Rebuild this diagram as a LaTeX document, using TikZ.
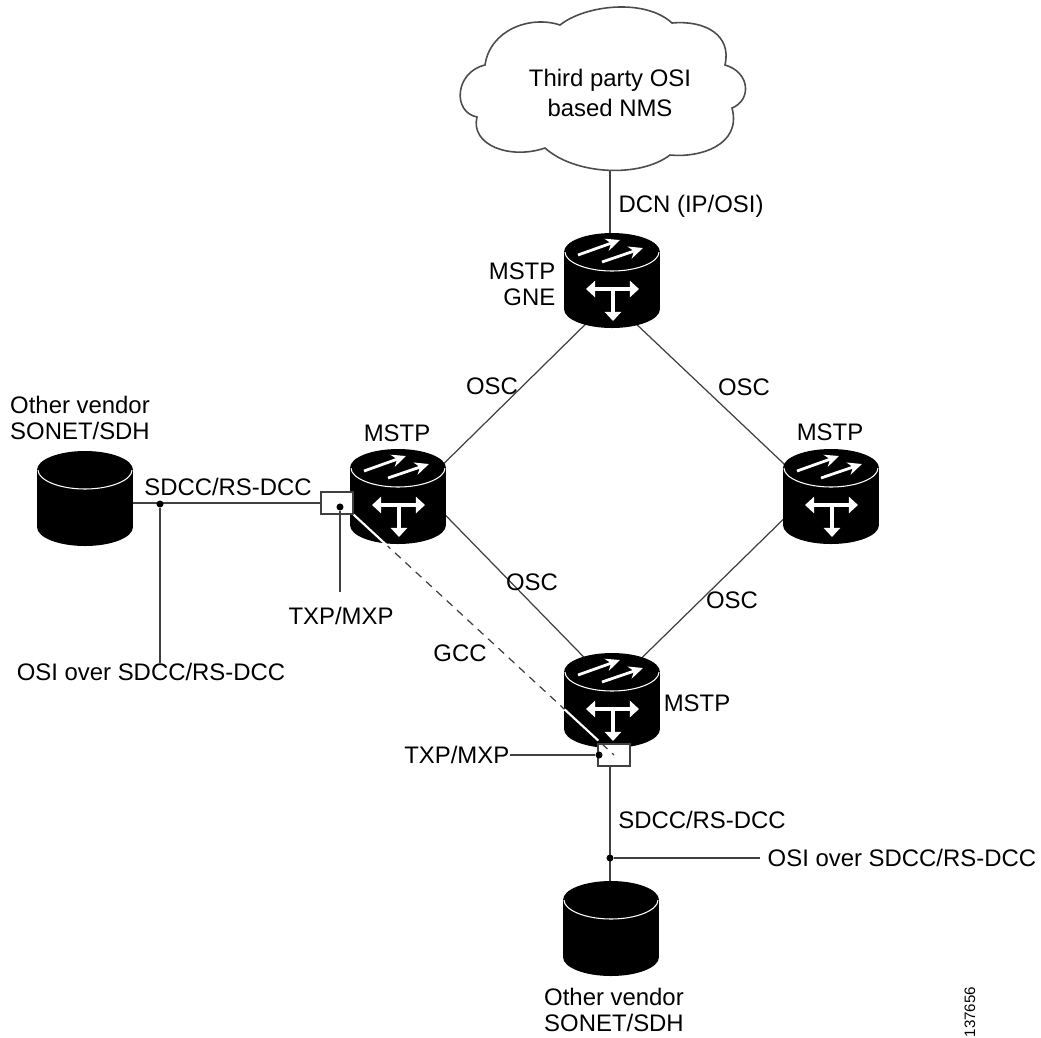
\documentclass[tikz,border=0pt]{standalone}
\usepackage{fontspec}
\setmainfont{Liberation Sans}
\usetikzlibrary{arrows.meta,backgrounds}
\colorlet{ColourLine}{black!75}
\tikzset{
  label text/.style={
    font=\fontsize{6.8pt}{7.5pt}\selectfont,
    align=center,
    inner sep=0pt,
  },
  link/.style={
    draw=ColourLine,
    line width=0.35pt,
  },
  gcc link/.style={
    link,
    dash pattern=on 2.2pt off 1.8pt,
  },
  gcc inside/.style={
    draw=white,
    line width=0.6pt,
  },
  tap dot/.style={
    fill=black,
    circle,
    inner sep=0pt,
    minimum size=2pt,
  },
  txp box/.style={
    draw=ColourLine,
    fill=white,
    line width=0.4pt,
    inner sep=0pt,
    minimum width=.32cm,
    minimum height=.22cm,
  },
  router/.style={
    circle,
    inner sep=0pt,
    minimum size=.9cm,
  },
  vendor body/.pic={
    \fill[black] (0,-29) ellipse (48 and 19);
    \fill[black] (-48,-29) rectangle (48,28);
    \fill[black] (0,28) ellipse (48 and 19);
    \draw[white,line width=0.3pt] (-47,-29) .. controls (-47,-19) and (-26,-10) .. (0,-10)
      .. controls (26,-10) and (47,-19) .. (47,-29);
  },
  mstp body/.pic={
    \pic {vendor body};
    \draw[white,line width=0.8pt,-{Stealth[length=4pt,width=3.6pt]}] (-34,-26) -- (8,-41);
    \draw[white,line width=0.8pt,-{Stealth[length=4pt,width=3.6pt]}] (-10,-19) -- (31,-33);
    \draw[white,line width=1.1pt,{Triangle[length=2.6pt,width=4.6pt]}-{Triangle[length=2.6pt,width=4.6pt]}] (-26,8) -- (27,8);
    \draw[white,line width=1.1pt,-{Triangle[length=2.6pt,width=4.6pt]}] (1,8) -- (1,40);
  },
}

\begin{document}
\begin{tikzpicture}[x=.01cm,y=-.01cm]
  \useasboundingbox (0,0) rectangle (1041,1038);

  % cloud
  \draw[draw=black!70,fill=white,line width=0.45pt]
    (560,25) .. controls (585,5) and (645,-2) .. (672,23)
    .. controls (705,20) and (732,35) .. (725,65)
    .. controls (750,72) and (752,100) .. (732,108)
    .. controls (742,145) and (700,158) .. (670,155)
    .. controls (640,178) and (575,175) .. (545,148)
    .. controls (510,160) and (470,145) .. (477,117)
    .. controls (452,112) and (455,72) .. (485,65)
    .. controls (490,30) and (530,15) .. (560,25) -- cycle;
  \node[label text] (nms) at (610,93) {Third party OSI\\[1pt]based NMS};

  % routers
  \node[router] (gne) at (612,281) {};
  \node[router] (west) at (398,497) {};
  \node[router] (east) at (831,497) {};
  \node[router] (south) at (612,701) {};
  \node[router] (vendorW) at (85,499) {};
  \node[router] (vendorS) at (611,929) {};
  \pic at (gne) {mstp body};
  \pic at (west) {mstp body};
  \pic at (east) {mstp body};
  \pic at (south) {mstp body};
  \pic at (vendorW) {vendor body};
  \pic at (vendorS) {vendor body};

  % boxes and tap points
  \node[txp box] (txpW) at (337,503) {};
  \node[txp box] (txpS) at (614,755) {};
  \node[tap dot] (dotW) at (340,507) {};
  \node[tap dot] (dotS) at (599,755) {};
  \node[tap dot] (tapW) at (160,504) {};
  \node[tap dot] (tapS) at (610,858) {};

  % labels
  \node[label text,anchor=west] (dcn) at (618,206) {DCN (IP/OSI)};
  \node[label text,align=right,anchor=east] (gneText) at (556,284) {MSTP\\GNE};
  \node[label text] (osc1) at (492,386) {OSC};
  \node[label text] (osc2) at (744,387) {OSC};
  \node[label text] (osc3) at (532,582) {OSC};
  \node[label text] (osc4) at (732,600) {OSC};
  \node[label text] (westText) at (397,433) {MSTP};
  \node[label text] (eastText) at (830,432) {MSTP};
  \node[label text] (southText) at (697,703) {MSTP};
  \node[label text] (vendorWText) at (80,418) {Other vendor\\SONET/SDH};
  \node[label text] (vendorSText) at (614,1010) {Other vendor\\SONET/SDH};
  \node[label text] (sdccW) at (228,487) {SDCC/RS-DCC};
  \node[label text] (sdccS) at (702,820) {SDCC/RS-DCC};
  \node[label text] (txpWText) at (341,616) {TXP/MXP};
  \node[label text,anchor=east] (txpSText) at (510,755) {TXP/MXP};
  \node[label text] (osiW) at (151,672) {OSI over SDCC/RS-DCC};
  \node[label text,anchor=west] (osiS) at (767,858) {OSI over SDCC/RS-DCC};
  \node[label text] (gcc) at (460,653) {GCC};
  \node[label text,rotate=90,font=\fontsize{4.3pt}{5pt}\selectfont] (figNo) at (970,1012) {137656};

  % connectors
  \begin{scope}[on background layer]
    \draw[link] (nms) -- (nms |- gne);
    \draw[link] (gne.240) -- (west.34);
    \draw[link] (gne.298) -- (east.147);
    \draw[link] (west.-18) -- (south.121);
    \draw[link] (east.202) -- (south.57);
    \draw[link] (txpW) -- (txpW -| vendorW);
    \draw[link] (tapS |- txpS) -- (tapS |- vendorS);
  \end{scope}
  \draw[link] (tapW) -- (tapW |- osiW.north);
  \draw[link,shorten >=4pt] (dotW) -- (dotW |- txpWText.north);
  \draw[link] (txpSText) -- (dotS);
  \draw[link,shorten >=2pt] (tapS) -- (osiS);
  \draw[gcc link] (txpW.south east) -- (txpS.center)
    coordinate[pos=.13] (gccWest)
    coordinate[pos=.81] (gccSouth)
    coordinate[pos=.94] (gccBox);
  \draw[gcc inside] (txpW.south east) -- (gccWest);
  \draw[gcc inside] (gccSouth) -- (gccBox);
\end{tikzpicture}
\end{document}
